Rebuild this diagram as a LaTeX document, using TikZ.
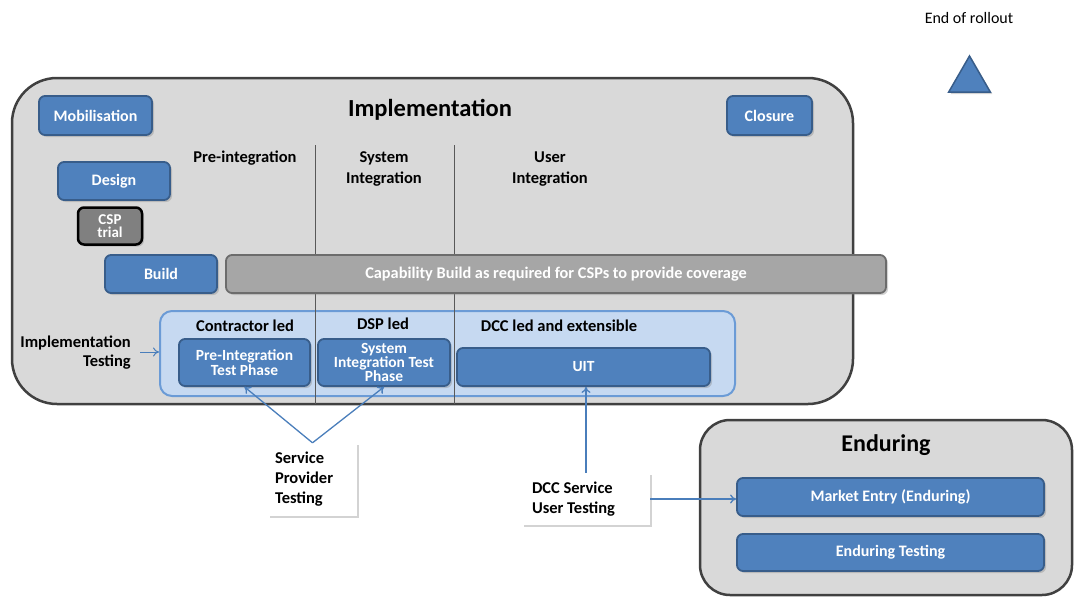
\documentclass[tikz,border=0pt]{standalone}
\usepackage{fontspec}
\setmainfont{Carlito}
\usetikzlibrary{shadows,arrows.meta,shapes.geometric}
\definecolor{boxblue}{HTML}{4F81BD}
\definecolor{boxedge}{HTML}{385D8A}
\definecolor{panel}{HTML}{D9D9D9}
\definecolor{paneledge}{HTML}{404040}
\definecolor{lightblue}{HTML}{C6D9F1}
\definecolor{lightedge}{HTML}{6B9BD6}
\definecolor{arrowblue}{HTML}{4A7EBB}
\tikzset{
  bluebox/.style={draw=boxedge, fill=boxblue, line width=1.8pt, rounded corners=6pt,
    text=white, font=\bfseries\fontsize{16}{16}\selectfont, align=center, inner sep=0pt,
    drop shadow={shadow xshift=2pt, shadow yshift=-2pt, opacity=0.35}},
  phasebox/.style={bluebox, font=\bfseries\fontsize{15.5}{13}\selectfont},
  panelbox/.style={draw=paneledge, fill=panel, line width=2.5pt},
  hdr/.style={font=\bfseries\fontsize{16.5}{21}\selectfont, align=center, inner sep=0pt},
  calloutbox/.style={fill=white, draw=none, inner sep=0pt,
    drop shadow={shadow xshift=2pt, shadow yshift=-2pt, opacity=0.35}},
  callouttext/.style={align=flush left, inner sep=0pt, anchor=west,
    font=\bfseries\fontsize{16.5}{20}\selectfont},
  conn/.style={draw=arrowblue, line width=1.3pt, -{To[length=6pt,width=9pt]}},
  divider/.style={draw=gray!70!black, line width=1pt}
}
\begin{document}
\begin{tikzpicture}[x=1pt,y=-1pt]
\useasboundingbox (0,0) rectangle (1074,597);
% main implementation panel
\draw[panelbox, rounded corners=45pt] (12,78) rectangle (853,404);
\node[font=\bfseries\fontsize{24.5}{24.5}\selectfont] (impl) at (430,110) {Implementation};
% testing region
\node[draw=lightedge, fill=lightblue, line width=2pt, rounded corners=12pt,
  minimum width=575, minimum height=85, inner sep=0pt] (testreg) at (447.5,353.5) {};
% dividers
\draw[divider] (315,145) -- (315,404);
\draw[divider] (454,145) -- (454,404);
% headers
\node[hdr] (hpre) at (245,158) {Pre-integration};
\node[hdr] (hsys) at (384,169) {System\\Integration};
\node[hdr] (husr) at (550,169) {User\\Integration};
% blue boxes
\node[bluebox, minimum width=113, minimum height=39] (mob) at (95.5,115.5) {Mobilisation};
\node[bluebox, minimum width=85, minimum height=39] (clo) at (769.5,115.5) {Closure};
\node[bluebox, minimum width=112, minimum height=38] (des) at (114,181) {Design};
\node[draw=black, fill=gray!100!white, line width=2.5pt, rounded corners=6pt,
  minimum width=64, minimum height=37, inner sep=0pt, text=white, align=center,
  font=\bfseries\fontsize{15}{13}\selectfont,
  drop shadow={shadow xshift=2pt, shadow yshift=-2pt, opacity=0.35}] (csp) at (110,226) {CSP\\trial};
\node[bluebox, minimum width=112, minimum height=38] (bld) at (161,274) {Build};
\node[draw=gray!85!black, fill=gray!70!white, line width=1.8pt, rounded corners=6pt,
  minimum width=660, minimum height=38, inner sep=0pt, text=white,
  font=\bfseries\fontsize{16.3}{16}\selectfont,
  drop shadow={shadow xshift=2pt, shadow yshift=-2pt, opacity=0.35}] (cap) at (556,274)
  {Capability Build as required for CSPs to provide coverage};
% testing headers
\node[hdr] (hcon) at (245,326) {Contractor led};
\node[hdr] (hdsp) at (383,324) {DSP led};
\node[hdr] (hdcc) at (559,326) {DCC led and extensible};
% phase boxes
\node[phasebox, minimum width=131, minimum height=47] (pit) at (244.5,362.5) {Pre-Integration\\Test Phase};
\node[phasebox, minimum width=132, minimum height=47] (sit) at (384,362.5) {System\\Integration Test\\Phase};
\node[phasebox, minimum width=253, minimum height=38] (uit) at (583.5,367) {UIT};
% implementation testing label
\node[font=\bfseries\fontsize{16.5}{19}\selectfont, align=right, anchor=east, inner sep=0pt] (itl) at (131,352.5) {Implementation\\Testing};
\coordinate (itstart) at (140,352);
\draw[conn, line width=1pt] (itstart) -- (testreg.west |- itstart);
% callouts
\node[calloutbox, minimum width=89, minimum height=73] (spt) at (312.5,479.5) {};
\node[callouttext] (sptt) at ([xshift=7pt]spt.west) {Service\\Provider\\Testing};
\node[calloutbox, minimum width=128, minimum height=52] (dcc) at (586,499) {};
\node[callouttext] (dcct) at ([xshift=10pt]dcc.west) {DCC Service\\User Testing};
\draw[conn] (spt.north) -- (pit.south);
\draw[conn] (spt.north) -- (sit.south);
\draw[conn] (dcc.north) -- (dcc.north |- uit.south);
% enduring panel
\draw[panelbox, rounded corners=30pt] (700,420) rectangle (1072,595);
\node[font=\bfseries\fontsize{24}{24}\selectfont] (endt) at (886,445) {Enduring};
\node[bluebox, minimum width=307, minimum height=38] (mkt) at (890.5,497) {Market Entry (Enduring)};
\node[bluebox, minimum width=307, minimum height=37] (etst) at (890.5,552.5) {Enduring Testing};
\draw[conn] (dcc.east) -- (dcc.east -| mkt.west);
% end of rollout
\node[font=\fontsize{16}{16}\selectfont] (eor) at (969,18) {End of rollout};
\node[draw=boxedge, fill=boxblue, line width=1.5pt, isosceles triangle, shape border rotate=90,
  isosceles triangle apex angle=60, minimum width=41, minimum height=36, inner sep=0pt,
  drop shadow={shadow xshift=2pt, shadow yshift=-2pt, opacity=0.35}] (tri) at (969.5,80) {};
\end{tikzpicture}
\end{document}
